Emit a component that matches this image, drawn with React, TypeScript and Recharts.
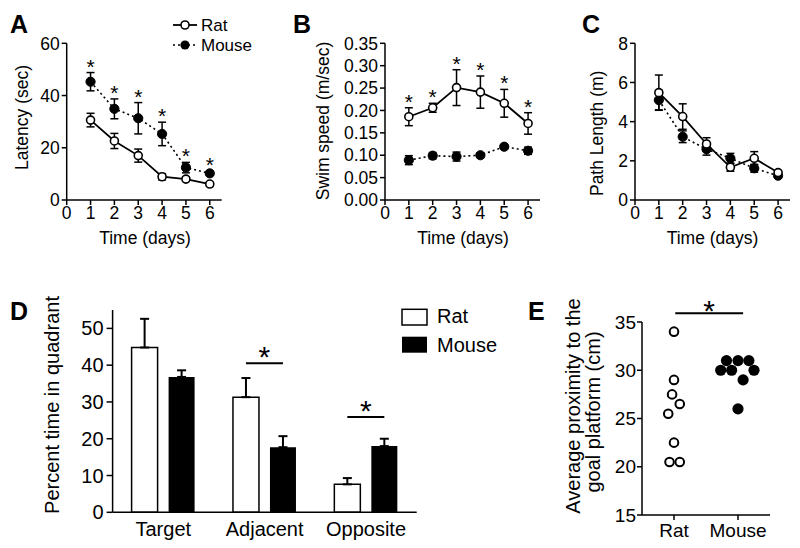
import React from 'react';
import {
  LineChart, Line, XAxis, YAxis, ErrorBar, BarChart, Bar,
  ScatterChart, Scatter, ReferenceLine,
} from 'recharts';

// ---- A/B/C: water maze acquisition, days 1-6 ----
const days = [1, 2, 3, 4, 5, 6];
const dayTicks = [0, 1, 2, 3, 4, 5, 6];

const latencyRat = [30.6, 22.6, 17.0, 8.9, 8.0, 6.1];
const latencyRatSem = [2.6, 2.9, 2.5, 1.2, 0.8, 0.8];
const latencyMouse = [45.3, 34.9, 31.3, 25.3, 12.4, 10.2];
const latencyMouseSem = [3.5, 3.8, 6.0, 4.5, 2.0, 0.8];

const speedRat = [0.186, 0.206, 0.251, 0.241, 0.216, 0.171];
const speedRatSem = [0.02, 0.01, 0.04, 0.036, 0.031, 0.024];
const speedMouse = [0.089, 0.099, 0.097, 0.1, 0.119, 0.11];
const speedMouseSem = [0.01, 0.007, 0.01, 0.005, 0.005, 0.008];

const pathRat = [5.48, 4.26, 2.86, 1.67, 2.13, 1.4];
const pathRatSem = [0.9, 0.65, 0.32, 0.2, 0.34, 0.1];
const pathMouse = [5.1, 3.23, 2.59, 2.13, 1.62, 1.24];
const pathMouseSem = [0.5, 0.3, 0.3, 0.25, 0.2, 0.08];

// ---- D: probe trial quadrants ----
const quadrants = ['Target', 'Adjacent', 'Opposite'];
const quadRat = [44.8, 31.3, 7.6];
const quadRatSem = [7.8, 5.2, 1.7];
const quadMouse = [36.8, 17.7, 18.0];
const quadMouseSem = [1.8, 3.0, 2.0];
const quadSig = [null, 40.5, 25.9];

// ---- E: proximity, individual animals ----
const proximityGroups = ['Rat', 'Mouse'];
const proximityRat = [34, 29, 27.5, 26.5, 25.5, 22.5, 20.5, 20.5];
const proximityRatJitter = [0, 0, -0.03, 0.09, -0.09, 0, -0.07, 0.09];
const proximityMouse = [31, 31, 31, 30, 30, 30, 29, 26];
const proximityMouseJitter = [-0.18, 0, 0.17, -0.27, -0.1, 0.25, 0.08, 0];
const proximitySigY = 35.9;
const proximitySigSpan = [0.52, 1.58];

const FONT = '"Liberation Sans", Arial, Helvetica, sans-serif';
const axisLine = { stroke: '#000', strokeWidth: 1.5 };
const tickLine = { stroke: '#000', strokeWidth: 1.5 };

type StarOn = 'rat' | 'mouse' | null;

const timeRows = (rat: number[], ratSem: number[], mouse: number[], mouseSem: number[], starOn: StarOn) =>
  days.map((d, i) => ({
    day: d,
    rat: rat[i],
    ratSem: ratSem[i],
    mouse: mouse[i],
    mouseSem: mouseSem[i],
    star: starOn === 'rat' ? rat[i] + ratSem[i] : starOn === 'mouse' ? mouse[i] + mouseSem[i] : null,
  }));

const renderStar = (p: any) => (
  <text key={`star-${p.index}`} x={p.cx} y={p.cy + 1} textAnchor="middle" fontSize={21} fill="#000">*</text>
);

interface TimeProps {
  rows: any[];
  left: number;
  width: number;
  yWidth: number;
  domain: [number, number];
  ticks: number[];
  fmt?: (v: number) => string;
  stars: boolean;
}

const TimePanel = ({ rows, left, width, yWidth, domain, ticks, fmt, stars }: TimeProps) => (
  <div style={{ position: 'absolute', left, top: 0 }}>
    <LineChart width={width} height={260} data={rows} margin={{ top: 43.3, right: width - yWidth - 155, bottom: 0, left: 0 }}>
      <XAxis
        type="number" dataKey="day" domain={[0, 6.5]} ticks={dayTicks} height={60}
        axisLine={axisLine} tickLine={tickLine} tickSize={5} tickMargin={2}
        tick={{ fill: '#000', fontSize: 17.5 }} allowDataOverflow
      />
      <YAxis
        type="number" domain={domain} ticks={ticks} width={yWidth} tickFormatter={fmt}
        axisLine={axisLine} tickLine={tickLine} tickSize={5} tickMargin={2}
        tick={{ fill: '#000', fontSize: 17.5 }} interval={0}
      />
      <Line
        dataKey="mouse" stroke="#000" strokeWidth={1.6} strokeDasharray="2 3"
        dot={{ r: 4.6, fill: '#000', stroke: '#000', strokeWidth: 1, strokeDasharray: '0' }}
        activeDot={false} isAnimationActive={false}
      >
        <ErrorBar dataKey="mouseSem" width={4} stroke="#000" strokeWidth={1.5} direction="y" />
      </Line>
      <Line
        dataKey="rat" stroke="#000" strokeWidth={1.8}
        dot={{ r: 4, fill: '#fff', stroke: '#000', strokeWidth: 1.6 }}
        activeDot={false} isAnimationActive={false}
      >
        <ErrorBar dataKey="ratSem" width={4} stroke="#000" strokeWidth={1.5} direction="y" />
      </Line>
      {stars && (
        <Line dataKey="star" stroke="none" dot={renderStar} activeDot={false} isAnimationActive={false} legendType="none" />
      )}
    </LineChart>
  </div>
);

const SigShape = (p: any) => {
  if (p.payload == null || p.payload.sig == null) return null;
  return (
    <g>
      <line x1={p.x} x2={p.x + p.width} y1={p.y} y2={p.y} stroke="#000" strokeWidth={2} />
      <text x={p.x + p.width / 2} y={p.y + 4} textAnchor="middle" fontSize={30} fill="#000">*</text>
    </g>
  );
};

const OpenDot = (p: any) => <circle cx={p.cx} cy={p.cy} r={4.3} fill="#fff" stroke="#000" strokeWidth={2} />;
const FilledDot = (p: any) => <circle cx={p.cx} cy={p.cy} r={5.6} fill="#000" />;

export default function App() {
  const latency = timeRows(latencyRat, latencyRatSem, latencyMouse, latencyMouseSem, 'mouse');
  const speed = timeRows(speedRat, speedRatSem, speedMouse, speedMouseSem, 'rat');
  const path = timeRows(pathRat, pathRatSem, pathMouse, pathMouseSem, null);

  const quadRows = quadrants.map((q, i) => ({
    quadrant: q,
    rat: quadRat[i],
    ratErr: [0, quadRatSem[i]],
    mouse: quadMouse[i],
    mouseErr: [0, quadMouseSem[i]],
    sig: quadSig[i],
  }));

  const ratPoints = proximityRat.map((v, i) => ({ x: 0.5 + proximityRatJitter[i], y: v }));
  const mousePoints = proximityMouse.map((v, i) => ({ x: 1.5 + proximityMouseJitter[i], y: v }));

  return (
    <div style={{ position: 'absolute', left: 0, top: 0, width: 800, height: 548, background: '#fff', fontFamily: FONT, overflow: 'hidden' }}>
      <TimePanel rows={latency} left={0} width={240} yWidth={66.7} domain={[0, 60]} ticks={[0, 20, 40, 60]} stars />
      <TimePanel
        rows={speed} left={300} width={260} yWidth={85} domain={[0, 0.35]}
        ticks={[0, 0.05, 0.1, 0.15, 0.2, 0.25, 0.3, 0.35]} fmt={(v) => v.toFixed(2)} stars
      />
      <TimePanel rows={path} left={560} width={240} yWidth={75} domain={[0, 8]} ticks={[0, 2, 4, 6, 8]} stars={false} />

      <div style={{ position: 'absolute', left: 0, top: 280 }}>
        <BarChart width={520} height={268} data={quadRows} margin={{ top: 30, right: 103.3, bottom: 0, left: 0 }} barGap={11}>
          <XAxis
            dataKey="quadrant" height={35.7} axisLine={axisLine} tickLine={false} tickSize={6} tickMargin={3.5}
            tick={{ fill: '#000', fontSize: 20 }}
          />
          <XAxis xAxisId="sig" dataKey="quadrant" hide />
          <YAxis
            domain={[0, 55]} ticks={[0, 10, 20, 30, 40, 50]} width={112.6} interval={0}
            axisLine={axisLine} tickLine={tickLine} tickSize={6} tickMargin={3}
            tick={{ fill: '#000', fontSize: 20 }}
          />
          <Bar dataKey="rat" fill="#fff" stroke="#000" strokeWidth={1.5} barSize={26} isAnimationActive={false}>
            <ErrorBar dataKey="ratErr" width={4.5} stroke="#000" strokeWidth={2} direction="y" />
          </Bar>
          <Bar dataKey="mouse" fill="#000" barSize={26} isAnimationActive={false}>
            <ErrorBar dataKey="mouseErr" width={4.5} stroke="#000" strokeWidth={2} direction="y" />
          </Bar>
          <Bar xAxisId="sig" dataKey="sig" barSize={37} shape={SigShape} isAnimationActive={false} />
        </BarChart>
      </div>

      <div style={{ position: 'absolute', left: 560, top: 280 }}>
        <ScatterChart width={240} height={268} margin={{ top: 42, right: 30, bottom: 0, left: 0 }}>
          <XAxis
            type="number" dataKey="x" domain={[0, 2]} ticks={[0.5, 1.5]} height={33}
            tickFormatter={(v) => proximityGroups[Math.round(v - 0.5)]}
            axisLine={axisLine} tickLine={tickLine} tickSize={5} tickMargin={4}
            tick={{ fill: '#000', fontSize: 19 }}
          />
          <YAxis
            type="number" dataKey="y" domain={[15, 35]} ticks={[15, 20, 25, 30, 35]} width={82} interval={0}
            axisLine={axisLine} tickLine={tickLine} tickSize={5} tickMargin={1}
            tick={{ fill: '#000', fontSize: 19 }}
          />
          <ReferenceLine
            segment={[{ x: proximitySigSpan[0], y: proximitySigY }, { x: proximitySigSpan[1], y: proximitySigY }]}
            ifOverflow="visible" stroke="#000" strokeWidth={2}
            label={{ value: '*', position: 'top', offset: -8, fontSize: 30, fill: '#000' }}
          />
          <Scatter data={ratPoints} shape={OpenDot} isAnimationActive={false} />
          <Scatter data={mousePoints} shape={FilledDot} isAnimationActive={false} />
        </ScatterChart>
      </div>

      <svg width={800} height={548} style={{ position: 'absolute', left: 0, top: 0, pointerEvents: 'none' }} fontFamily={FONT}>
        <g fontWeight="bold" fontSize={25} fill="#000">
          <text x={10} y={33}>A</text>
          <text x={293} y={33}>B</text>
          <text x={582} y={33}>C</text>
          <text x={10} y={320}>D</text>
          <text x={528} y={320}>E</text>
        </g>
        <g fontSize={17.5} fill="#000" textAnchor="middle">
          <text x={28} y={117.5} transform="rotate(-90 28 117.5)">Latency (sec)</text>
          <text x={329} y={121} transform="rotate(-90 329 121)">Swim speed (m/sec)</text>
          <text x={602.7} y={133.3} transform="rotate(-90 602.7 133.3)">Path Length (m)</text>
          <text x={145} y={244}>Time (days)</text>
          <text x={463} y={244}>Time (days)</text>
          <text x={712.5} y={244}>Time (days)</text>
        </g>
        <g fontSize={20} fill="#000" textAnchor="middle">
          <text x={58.5} y={405} transform="rotate(-90 58.5 405)">Percent time in quadrant</text>
          <text x={580} y={406} transform="rotate(-90 580 406)">Average proximity to the</text>
          <text x={600} y={412} transform="rotate(-90 600 412)">goal platform (cm)</text>
        </g>
        {/* legend A */}
        <line x1={173} x2={197} y1={25} y2={25} stroke="#000" strokeWidth={1.8} />
        <circle cx={185} cy={25} r={4} fill="#fff" stroke="#000" strokeWidth={1.6} />
        <text x={201} y={30.5} fontSize={17} fill="#000">Rat</text>
        <line x1={173} x2={197} y1={45} y2={45} stroke="#000" strokeWidth={1.6} strokeDasharray="2 3" />
        <circle cx={185} cy={45} r={4.6} fill="#000" />
        <text x={201} y={51} fontSize={17} fill="#000">Mouse</text>
        {/* legend D */}
        <rect x={402} y={309.3} width={25} height={15.7} fill="#fff" stroke="#000" strokeWidth={1.5} />
        <text x={437} y={323.3} fontSize={20} fill="#000">Rat</text>
        <rect x={402} y={336.7} width={25} height={16} fill="#000" />
        <text x={437} y={351.7} fontSize={20} fill="#000">Mouse</text>
      </svg>
    </div>
  );
}
